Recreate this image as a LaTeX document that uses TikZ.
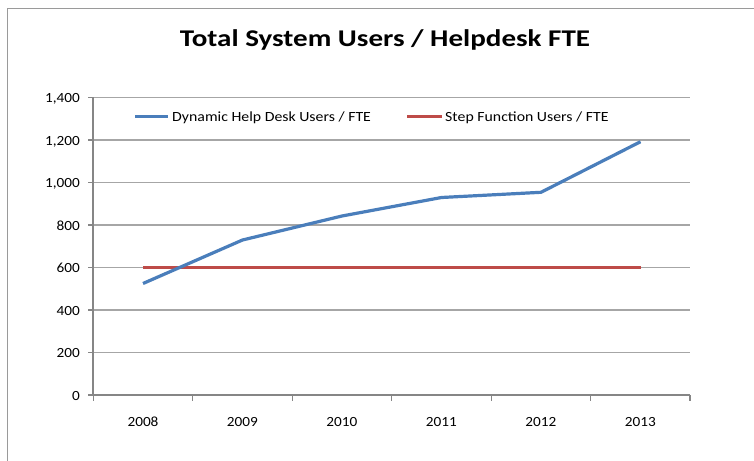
\documentclass[tikz,border=0pt]{standalone}
\usepackage{fontspec}
\setmainfont{Carlito}
\definecolor{serblue}{HTML}{4A7EBB}
\definecolor{serred}{HTML}{BE4B48}
\definecolor{gridgray}{HTML}{A6A6A6}
\definecolor{axisgray}{HTML}{868686}
\definecolor{framegray}{HTML}{9A9A9A}
\begin{document}
\begin{tikzpicture}[x=1pt,y=-1pt,
  gridline/.style={gridgray,line width=1.3pt},
  axisline/.style={axisgray,line width=2pt},
  tickline/.style={axisgray,line width=1.2pt},
  ylab/.style={anchor=base east,font=\fontsize{14}{16}\selectfont,inner sep=0pt,xscale=1.09},
  xlab/.style={anchor=base,font=\fontsize{14}{16}\selectfont,inner sep=0pt,xscale=1.09},
  leglab/.style={anchor=base west,font=\fontsize{14}{16}\selectfont,inner sep=0pt,xscale=1.13},
  bluser/.style={serblue,line width=3.2pt,line join=round},
  redser/.style={serred,line width=3.2pt}]
\useasboundingbox (0,0) rectangle (754,460);
\fill[white] (0,0) rectangle (754,460);
% chart frame
\draw[framegray,line width=1pt] (7,470) -- (7,9) -- (770,9);
% title
\node[font=\bfseries\fontsize{24}{28}\selectfont,inner sep=0pt,anchor=base,xscale=1.21] (title) at (385,46.7) {Total System Users / Helpdesk FTE};
% gridlines
\foreach \v in {1,...,7} {
  \draw[gridline] (93.3,{395-42.5*\v}) -- (690,{395-42.5*\v});
}
% y ticks and labels
\foreach \v/\t in {0/0,1/200,2/400,3/600,4/800,5/1{,}000,6/1{,}200,7/1{,}400} {
  \draw[tickline] (88,{395-42.5*\v}) -- (93.3,{395-42.5*\v});
  \node[ylab] at (80,{395-42.5*\v+5}) {\t};
}
% x ticks
\foreach \i in {0,...,6} {
  \draw[tickline] ({93.3+99.45*\i},395) -- ({93.3+99.45*\i},401);
}
% x labels
\foreach \i/\y in {0/2008,1/2009,2/2010,3/2011,4/2012,5/2013} {
  \node[xlab] at ({143+99.45*\i},426.7) {\y};
}
% axes
\draw[axisline] (93.3,395) -- (93.3,97);
\draw[axisline] (92.3,395) -- (690,395);
% data
\coordinate (d8) at (143,283.5);
\coordinate (d9) at (242.5,240);
\coordinate (d10) at (342,216);
\coordinate (d11) at (441.5,197.5);
\coordinate (d12) at (541,192.3);
\coordinate (d13) at (640.5,141.7);
\coordinate (s8) at (143,267.5);
\coordinate (s13) at (640.5,267.5);
\draw[redser] (s8) -- (s13);
\draw[bluser] (d8) -- (d9) -- (d10) -- (d11) -- (d12) -- (d13);
% legend
\coordinate (lb1) at (135,116.7);
\coordinate (lb2) at (168,116.7);
\draw[bluser] (lb1) -- (lb2);
\node[leglab] (lbt) at (172,121) {Dynamic Help Desk Users / FTE};
\coordinate (lr1) at (407,116.7);
\coordinate (lr2) at (442,116.7);
\draw[redser] (lr1) -- (lr2);
\node[leglab] (lrt) at (445,121) {Step Function Users / FTE};
\end{tikzpicture}
\end{document}
